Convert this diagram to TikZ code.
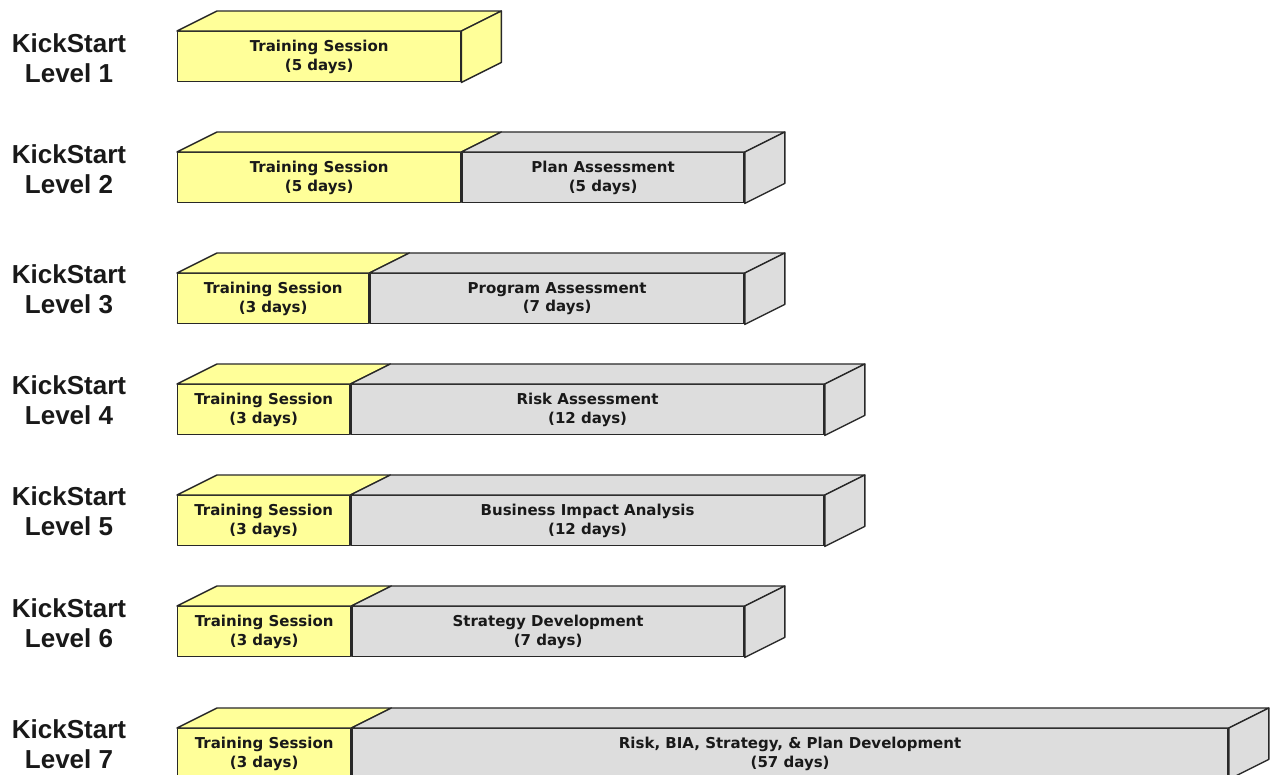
\documentclass[tikz,border=0pt]{standalone}
\usepackage{fontspec}
\setmainfont{Liberation Sans}
\newfontfamily\boxfont{DejaVu Sans}
\definecolor{ylw}{RGB}{255,255,153}
\definecolor{gry}{RGB}{221,221,221}
\definecolor{edge}{RGB}{40,40,40}
\definecolor{txt}{RGB}{25,25,25}
\tikzset{
  face/.style={draw=edge, line width=1.4pt, line join=round},
  trainface/.style={face, fill=ylw},
  workface/.style={face, fill=gry},
  front/.style={anchor=north west, minimum height=50, inner sep=0pt, align=center,
     text=txt, font=\boxfont\bfseries\fontsize{15}{18.5}\selectfont},
  lvl/.style={align=center, text=txt, inner sep=0pt,
     font=\bfseries\fontsize{26}{30}\selectfont},
}
% #1 id, #2 top y, #3 split x, #4 right x, #5 training days, #6 work title, #7 work days, #8 label y
\newcommand{\ksbar}[8]{%
  \node[lvl] (l#1) at (69,#8) {KickStart\\Level #1};
  \node[front, trainface, minimum width={#3-177}] (t#1) at (177,#2) {Training Session\\(#5 days)};
  \node[front, workface, minimum width={#4-#3}] (w#1) at (t#1.north east) {#6\\(#7 days)};
  \draw[trainface] (t#1.north west) -- ++(40,-20) -- ([shift={(40,-20)}]t#1.north east) -- (t#1.north east) -- cycle;
  \draw[workface] (w#1.north west) -- ++(40,-20) -- ([shift={(40,-20)}]w#1.north east) -- (w#1.north east) -- cycle;
  \draw[workface] (w#1.north east) -- ++(40,-20) -- ([shift={(40,-20)}]w#1.south east) -- (w#1.south east) -- cycle;
}
\begin{document}
\begin{tikzpicture}[x=1pt,y=-1pt]
\useasboundingbox (0,0) rectangle (1271,774);
\clip (0,0) rectangle (1271,774);
% Level 1
\node[lvl] (l1) at (69,58) {KickStart\\Level 1};
\node[front, trainface, minimum width=283] (t1) at (177,31) {Training Session\\(5 days)};
\draw[trainface] (t1.north west) -- ++(40,-20) -- ([shift={(40,-20)}]t1.north east) -- (t1.north east) -- cycle;
\draw[trainface] (t1.north east) -- ++(40,-20) -- ([shift={(40,-20)}]t1.south east) -- (t1.south east) -- cycle;
% Levels 2-7
\ksbar{2}{152}{460}{742}{5}{Plan Assessment}{5}{169}
\ksbar{3}{273}{368}{742}{3}{Program Assessment}{7}{289}
\ksbar{4}{384}{349}{822}{3}{Risk Assessment}{12}{400}
\ksbar{5}{495}{349}{822}{3}{Business Impact Analysis}{12}{511}
\ksbar{6}{606}{350}{742}{3}{Strategy Development}{7}{623}
\ksbar{7}{728}{350}{1226}{3}{Risk, BIA, Strategy, \& Plan Development}{57}{744}
\end{tikzpicture}
\end{document}
